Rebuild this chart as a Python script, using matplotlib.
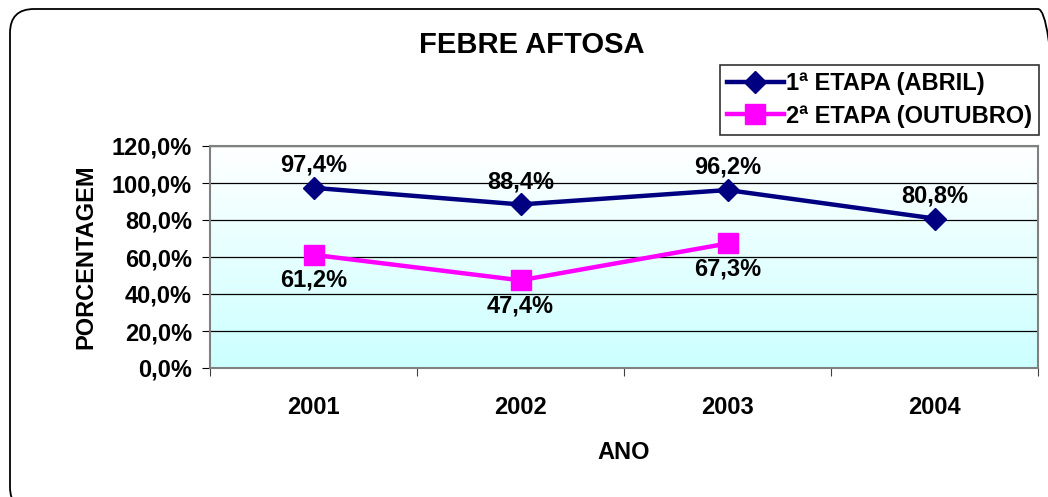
import numpy as np
import matplotlib
matplotlib.use("Agg")
import matplotlib.pyplot as plt
from matplotlib.colors import LinearSegmentedColormap
from matplotlib.patches import FancyBboxPatch
from matplotlib.transforms import IdentityTransform

plt.rcParams['font.family'] = ['Liberation Sans', 'DejaVu Sans']
plt.rcParams['font.weight'] = 'bold'

anos = ['2001', '2002', '2003', '2004']
etapa1 = [97.4, 88.4, 96.2, 80.8]
etapa2 = [61.2, 47.4, 67.3]
yticks = [0, 20, 40, 60, 80, 100, 120]

FS = 17

fig = plt.figure(figsize=(10.48, 4.97), dpi=100)

# moldura arredondada (em pixels, passa da borda direita/inferior)
borda = FancyBboxPatch((10, -14), 1052, 502,
                       boxstyle="round,pad=0,rounding_size=24",
                       transform=IdentityTransform(), fill=False,
                       edgecolor='black', linewidth=1.3)
fig.patches.append(borda)

ax = fig.add_axes([210/1048, 129/497, 828/1048, 222/497])

# fundo em degrade
cmap = LinearSegmentedColormap.from_list('fundo', ['#CCFFFF', '#FFFFFF'])
grad = np.linspace(0, 1, 256).reshape(-1, 1)
ax.imshow(grad, cmap=cmap, aspect='auto', extent=[0, 1, 0, 1],
          transform=ax.transAxes, origin='lower', zorder=0)

x = np.arange(len(anos)) + 0.5
ax.plot(x, etapa1, color='#000080', linewidth=3.2, marker='D',
        markersize=11.5, label='1ª ETAPA (ABRIL)', zorder=3)
ax.plot(x[:len(etapa2)], etapa2, color='#FF00FF', linewidth=3.2, marker='s',
        markersize=14.5, label='2ª ETAPA (OUTUBRO)', zorder=3)

for xi, v in zip(x, etapa1):
    ax.annotate(f"{v:.1f}%".replace('.', ','), (xi, v), xytext=(0, 8),
                textcoords='offset points', ha='center', va='bottom',
                fontsize=FS, fontweight='bold')
for xi, v in zip(x, etapa2):
    ax.annotate(f"{v:.1f}%".replace('.', ','), (xi, v), xytext=(0, -10),
                textcoords='offset points', ha='center', va='top',
                fontsize=FS, fontweight='bold')

ax.set_xlim(0, len(anos))
ax.set_ylim(0, 120)
ax.set_yticks(yticks)
ax.set_yticklabels([f"{t:.1f}%".replace('.', ',') for t in yticks],
                   fontsize=FS, fontweight='bold')
ax.set_xticks(np.arange(len(anos) + 1))
ax.set_xticklabels([])
ax.set_xticks(x, minor=True)
ax.set_xticklabels(anos, minor=True, fontsize=FS, fontweight='bold')
ax.tick_params(axis='x', which='minor', length=0, pad=20)
ax.tick_params(axis='x', which='major', length=6, direction='out', color='#404040')
ax.tick_params(axis='y', length=6, direction='out', pad=7)
ax.grid(axis='y', color='black', linewidth=0.9, zorder=1)
ax.set_axisbelow(True)
for s in ax.spines.values():
    s.set_color('#808080')
    s.set_linewidth(1.5)

ax.set_ylabel('PORCENTAGEM', fontsize=FS, fontweight='bold', labelpad=10)
ax.set_xlabel('ANO', fontsize=FS, fontweight='bold', labelpad=16)
fig.text(532/1048, 1 - 45/497, 'FEBRE AFTOSA', ha='center', va='center',
         fontsize=21, fontweight='bold')

leg = fig.legend(loc='upper right', bbox_to_anchor=(1039/1048, 1 - 65/497),
                 fontsize=FS, frameon=True, fancybox=False, edgecolor='black',
                 handlelength=2.4, borderpad=0.3, labelspacing=0.4,
                 handletextpad=0.1, borderaxespad=0)
leg.get_frame().set_linewidth(1.2)
for t in leg.get_texts():
    t.set_fontweight('bold')

fig.savefig('out.png', dpi=100)
